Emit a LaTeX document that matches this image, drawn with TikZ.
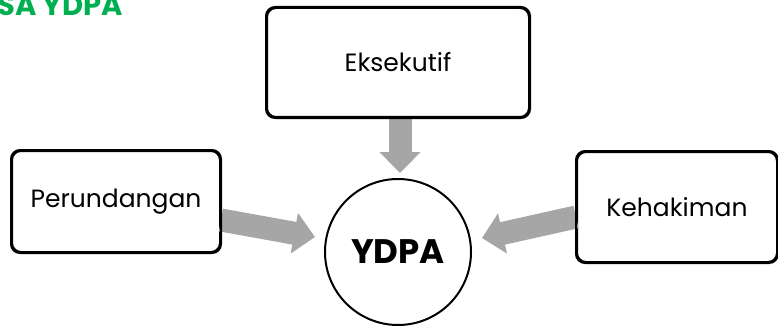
\documentclass[tikz,border=0pt]{standalone}
\usepackage{fontspec}
\setmainfont{Poppins}
\usetikzlibrary{arrows.meta}
\definecolor{arrowgray}{HTML}{A6A6A6}
\definecolor{titlegreen}{HTML}{00B050}
\begin{document}
\begin{tikzpicture}[x=1pt,y=-1pt,
  box/.style={draw=black,line width=2pt,rounded corners=9pt,fill=white,inner sep=0pt,font=\fontsize{25}{28}\selectfont},
  bigarrow/.style={draw=arrowgray,line width=23pt,-{Triangle[width=40pt,length=21pt]},shorten >=0pt}]
\useasboundingbox (0,0) rectangle (778,326);
\node[anchor=base west,inner sep=0pt,text=titlegreen,font=\fontsize{29}{32}\bfseries\selectfont] (title) at (-3,16) {SA YDPA};
\node[box,minimum width=262pt,minimum height=109pt] (eks) at (398,62.5) {Eksekutif};
\node[box,minimum width=208pt,minimum height=101pt] (per) at (116,201.5) {Perundangan};
\node[box,minimum width=200pt,minimum height=110pt] (keh) at (677,207) {Kehakiman};
\node[draw=black,line width=2pt,circle,minimum size=146pt,inner sep=0pt,fill=white,font=\fontsize{34}{38}\bfseries\selectfont] (ydpa) at (398,252) {YDPA};
\coordinate (eksS) at (400,117);
\coordinate (eksT) at (400,173);
\coordinate (perS) at (221,220);
\coordinate (perT) at (315,237);
\coordinate (kehS) at (576,217);
\coordinate (kehT) at (482,238);
\draw[bigarrow] (eksS) -- (eksT);
\draw[bigarrow] (perS) -- (perT);
\draw[bigarrow] (kehS) -- (kehT);
\draw[line width=2pt,rounded corners=9pt] (eks.south west) rectangle (eks.north east);
\draw[line width=2pt,rounded corners=9pt] (per.south west) rectangle (per.north east);
\draw[line width=2pt,rounded corners=9pt] (keh.south west) rectangle (keh.north east);
\end{tikzpicture}
\end{document}
